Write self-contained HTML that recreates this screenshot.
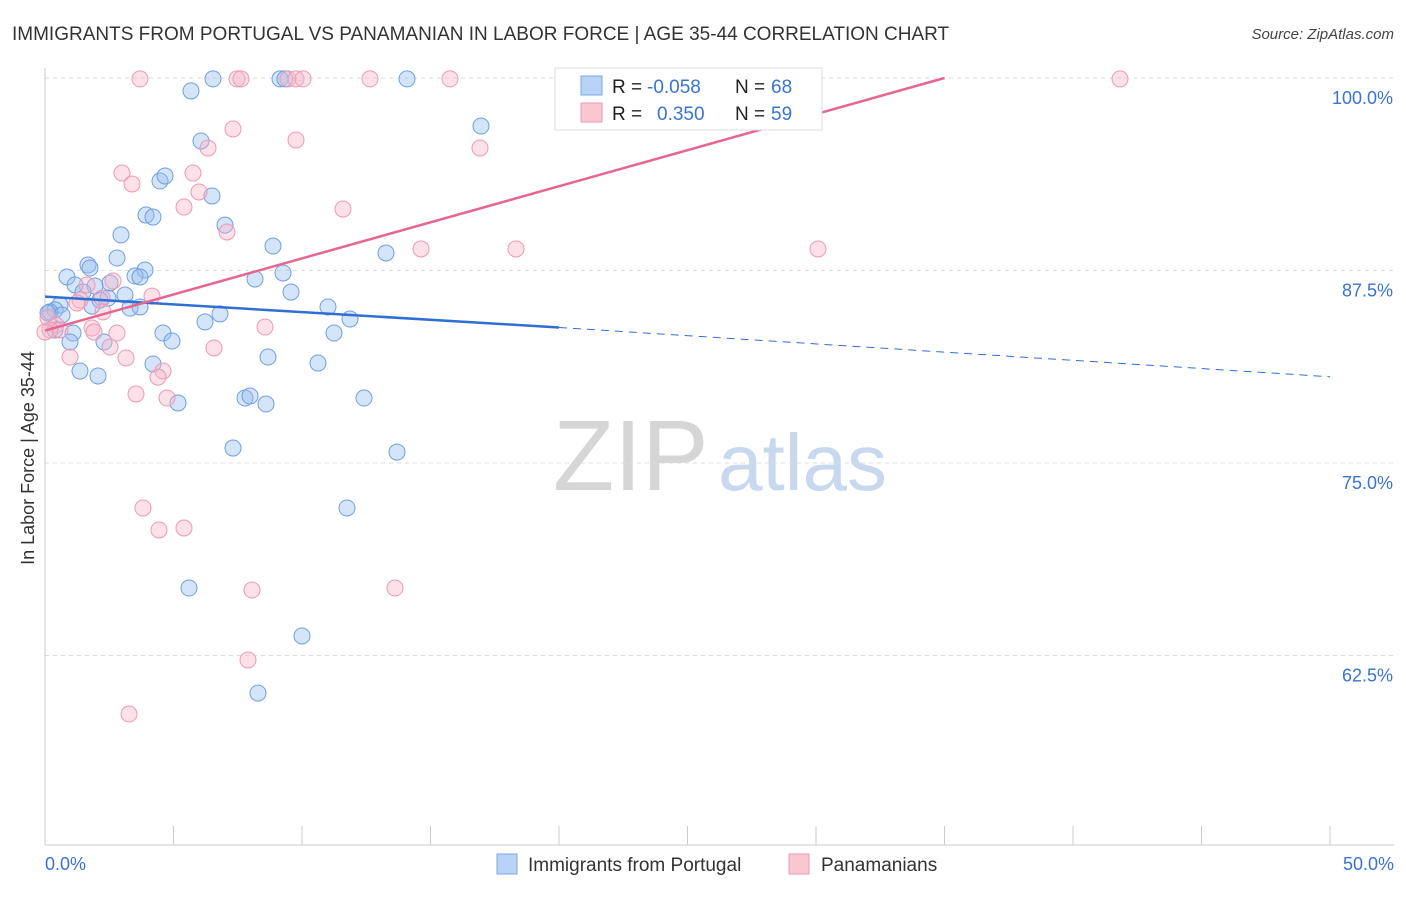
<!DOCTYPE html>
<html><head><meta charset="utf-8"><style>
body{margin:0;background:#fff;font-family:"Liberation Sans",sans-serif;}
svg text{font-family:"Liberation Sans",sans-serif;}
</style></head><body>
<svg id="chart" width="1406" height="892">
<text x="12" y="40" font-size="19" fill="#333">IMMIGRANTS FROM PORTUGAL VS PANAMANIAN IN LABOR FORCE | AGE 35-44 CORRELATION CHART</text>
<text x="1394" y="39" font-size="15" fill="#444" font-style="italic" text-anchor="end">Source: ZipAtlas.com</text>
<text x="0" y="0" transform="translate(34,458) rotate(-90)" font-size="18" fill="#333" text-anchor="middle">In Labor Force | Age 35-44</text>
<g><text x="553" y="490" font-size="100" fill="#d6d6d6" font-family="Liberation Serif">ZIP</text><text x="718" y="490" font-size="80" fill="#c8d8ee">atlas</text></g>
<g id="grid"></g><g id="pts"></g><g id="trend"></g>
<g>
<rect x="555" y="68" width="267" height="62" fill="#fff" stroke="#ddd"/>
<rect x="581" y="76" width="21" height="19" fill="#b8d3f5" stroke="#7aa8e6"/>
<rect x="581" y="103" width="21" height="19" fill="#f9c6d4" stroke="#ee9ab2"/>
<text x="612" y="93" font-size="19" fill="#222">R =</text><text x="647" y="93" font-size="19" fill="#3a74d0">-0.058</text>
<text x="735" y="93" font-size="19" fill="#222">N =</text><text x="771" y="93" font-size="19" fill="#3a74d0">68</text>
<text x="612" y="120" font-size="19" fill="#222">R =</text><text x="657" y="120" font-size="19" fill="#3a74d0">0.350</text>
<text x="735" y="120" font-size="19" fill="#222">N =</text><text x="771" y="120" font-size="19" fill="#3a74d0">59</text>
</g>
<g>
<rect x="497" y="854" width="20" height="20" fill="#b8d3f5" stroke="#7aa8e6"/>
<text x="528" y="871" font-size="19" fill="#333">Immigrants from Portugal</text>
<rect x="789" y="854" width="20" height="20" fill="#f9c6d4" stroke="#ee9ab2"/>
<text x="821" y="871" font-size="19" fill="#333">Panamanians</text>
</g>
<text x="45" y="870" font-size="18" fill="#3a74d0">0.0%</text>
<text x="1394" y="870" font-size="18" fill="#3a74d0" text-anchor="end">50.0%</text>
</svg>
<script>
const yTicks=[100,87.5,75,62.5];
const yTickLabels=["100.0%","87.5%","75.0%","62.5%"];
const blueX=[213,280,285,407,191,481,201,160,165,212,146,153,225,121,273,386,88,117,90,145,135,140,67,283,255,75,110,95,83,125,291,108,100,60,92,130,140,328,55,50,62,205,220,350,163,172,334,73,70,104,268,153,318,80,98,178,245,250,266,364,233,397,347,189,302,258,48,55].map(p=>(p-45)/1285*50);
const blueY=[79,79,79,79,91,126,141,181,176,196,215,217,225,235,246,253,265,258,268,270,276,277,277,273,279,285,283,286,292,295,292,298,300,305,306,308,307,307,310,312,315,322,314,319,333,341,333,333,342,342,357,364,363,371,376,403,398,396,404,398,448,452,508,588,636,693,313,330].map(p=>+(100-(p-78)/15.4).toFixed(2));
const pinkX=[140,237,241,288,296,303,370,450,635,1120,233,208,296,480,122,193,132,199,184,343,227,421,516,818,113,87,102,80,152,77,103,48,56,60,92,117,94,265,214,110,70,126,163,158,136,167,143,159,184,252,395,248,129,50,45].map(p=>(p-45)/1285*50);
const pinkY=[79,79,79,79,79,79,79,79,79,79,129,148,140,148,173,173,184,192,207,209,232,249,249,249,281,285,298,300,296,303,312,318,325,330,328,333,332,327,348,347,357,358,371,377,394,398,508,530,528,590,588,660,714,330,332].map(p=>+(100-(p-78)/15.4).toFixed(2));
const blueTrend=[[0,85.8],[20,83.8],[50,80.6]];
const pinkTrend=[[0,83.6],[35,100]];
const sx=v=>45+v/50*1285, sy=v=>78+(100-v)*15.4;
const NS="http://www.w3.org/2000/svg";
function mk(t,a,p){const e=document.createElementNS(NS,t);for(const k in a)e.setAttribute(k,a[k]);p.appendChild(e);return e;}
const grid=document.getElementById('grid');
yTicks.forEach((t,i)=>{
 const l=mk('line',{x1:45,x2:1394,y1:sy(t),y2:sy(t),stroke:'#ddd','stroke-dasharray':'4,4'},grid);
 
 
 const tx=mk('text',{x:1393,y:sy(t)+26,'font-size':18,fill:'#3a74d0','text-anchor':'end'},grid);
 tx.textContent=yTickLabels[i];
 
 
});
mk('line',{x1:45,x2:45,y1:68,y2:845,stroke:'#ccc'},grid);
mk('line',{x1:45,x2:1394,y1:845,y2:845,stroke:'#ccc'},grid);
for(let i=0;i<=10;i++){const t=mk('line',{x1:sx(i*5),x2:sx(i*5),y1:826,y2:845,stroke:'#ccc'},grid);
 
 }
const pts=document.getElementById('pts');
blueX.forEach((x,i)=>{const c=mk('circle',{cx:sx(x),cy:sy(blueY[i]),r:8,fill:'rgba(150,190,240,0.4)',stroke:'#6f9fe0','stroke-width':1},pts);
 
 });
pinkX.forEach((x,i)=>{const c=mk('circle',{cx:sx(x),cy:sy(pinkY[i]),r:8,fill:'rgba(248,180,200,0.4)',stroke:'#eb9ab3','stroke-width':1},pts);
 
 });
const tr=document.getElementById('trend');
const b1=mk('line',{x1:sx(blueTrend[0][0]),y1:sy(blueTrend[0][1]),x2:sx(blueTrend[1][0]),y2:sy(blueTrend[1][1]),stroke:'#2f6fd4','stroke-width':2.5},tr);


const b2=mk('line',{x1:sx(blueTrend[1][0]),y1:sy(blueTrend[1][1]),x2:sx(blueTrend[2][0]),y2:sy(blueTrend[2][1]),stroke:'#2f6fd4','stroke-width':1,'stroke-dasharray':'8,6'},tr);


const p1=mk('line',{x1:sx(pinkTrend[0][0]),y1:sy(pinkTrend[0][1]),x2:sx(pinkTrend[1][0]),y2:sy(pinkTrend[1][1]),stroke:'#e5668f','stroke-width':2.5},tr);


</script>
</body></html>
